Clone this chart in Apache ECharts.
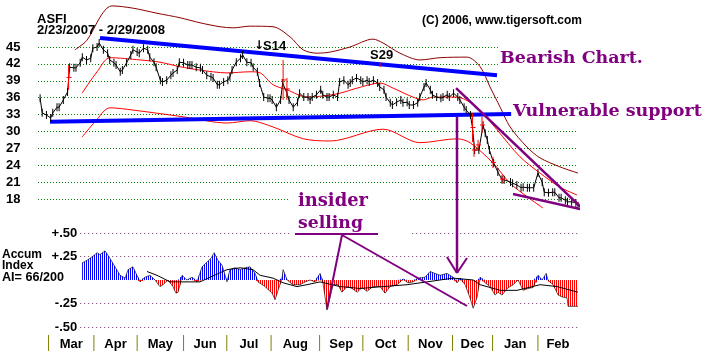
<!DOCTYPE html>
<html><head><meta charset="utf-8">
<script src="https://cdn.jsdelivr.net/npm/echarts@6/dist/echarts.min.js"></script>
<style>html,body{margin:0;padding:0;background:#fff}#c{width:707px;height:352px}</style>
</head><body><div id="c"></div>
<script>
// ---- price (trading-day index from 2/23/2007) ----
const priceDay = [1,2,4,6,7,9,10,12,14,15,17,18,20,21,23,25,26,28,29,31,33,34,36,37,39,40,42,44,45,47,48,50,52,53,55,56,58,59,61,63,64,66,67,69,71,72,73,75,77,78,80,82,83,85,86,88,90,91,92,94,96,97,99,101,102,104,105,107,109,110,111,113,115,116,118,119,121,123,124,126,128,129,130,132,134,135,137,138,140,142,143,145,147,148,149,151,153,154,156,157,159,161,162,164,165,167,168,170,172,173,175,176,178,180,181,183,184,186,187,189,191,192,194,195,197,199,200,202,203,205,206,207,209,211,212,213,214,216,218,220,221,224,225,227,229,230,232,233,235,237,239,240,242,244,245,247,248,250,251,253,255,256];
const priceClose = [35.9,33.3,32.9,32.4,33.3,34.3,34.3,35.6,37.0,41.4,41.3,41.3,42.2,43.2,42.7,43.0,44.8,45.0,45.7,44.5,43.9,42.7,42.2,41.8,40.6,40.9,42.2,43.6,44.5,44.1,43.9,44.8,44.5,43.2,42.3,41.4,39.1,38.8,39.1,40.0,40.4,40.9,42.3,42.2,41.8,41.8,41.8,41.4,41.3,40.9,40.0,39.7,39.5,38.3,38.3,38.8,39.1,39.7,40.9,42.3,43.0,43.6,42.3,42.2,41.4,40.6,38.6,36.1,35.9,35.9,35.6,34.3,35.6,38.6,36.8,35.6,34.3,35.2,36.8,36.1,36.1,35.6,36.1,36.5,37.4,36.5,36.1,36.1,36.5,36.1,38.8,39.1,38.3,38.6,39.1,39.5,39.1,38.8,39.1,38.8,39.1,38.6,37.9,37.4,36.1,35.1,34.7,35.2,35.6,35.1,35.2,34.7,34.7,35.1,36.1,37.9,38.6,37.4,36.5,36.1,35.9,36.1,36.5,36.1,36.8,36.1,35.6,34.3,33.8,32.9,30.6,26.7,26.7,31.1,29.7,28.5,26.7,24.4,22.8,21.4,21.4,21.0,20.8,20.5,20.0,20.1,20.0,20.0,20.0,22.6,21.0,19.2,19.1,19.2,19.2,18.2,18.2,17.8,17.5,17.5,17.3,16.8];
const redDay  = [14.5,116.2,118,206,206.7,208.6,210.5,215.7,220];
const redHigh = [41.8,42.7,39.5,33.3,27.9,28.5,32.6,25.5,22.3];
const redLow  = [37.4,35.6,35.6,28.1,25.5,26.7,29.7,23.5,20.8];
// ---- bands ----
const upperBandDay = [17.5,23.2,29.4,32.7,35.1,45,56.4,67.3,76.8,86.3,92.5,100.5,111.4,119.5,125.7,132.3,138.5,147.9,158.8,163.6,171.6,181.1,190.6,203.4,209.6,214.3,219.1,223.8,231.9,238,247.5,256];
const upperBandVal = [44.5,46.2,50.3,51.9,52.3,51.9,51.0,50.2,49.3,48.6,48.4,48.7,48.6,46.8,44.5,43.9,44.1,45.0,46.4,45.7,43.9,42.7,43.1,43.2,41.5,37.9,34.3,30.8,27.2,25.3,23.7,22.6];
const maDay = [20.9,28,34.1,48.4,57.8,67.3,76.8,89.6,100.5,105.3,111.4,118.1,127.5,135.1,143.2,151.3,162.2,168.3,177.8,182.6,187.3,198.7,204.8,209.6,217.6,228.5,238,247.5,255.6];
const maVal = [36.8,40.6,43.1,42.7,42.3,41.5,40.9,40.4,40.6,40.4,38.3,37.4,36.1,36.3,36.8,37.7,38.6,37.7,36.1,35.6,36.1,36.1,35.2,33.8,30.3,25.5,22.6,20.1,18.7];
const lowerBandDay = [20.9,27,34.1,45,68.8,89.6,100.5,111.4,125.7,138.5,163.6,181.1,198.7,204.8,215.7,223.8,231.9,239.4];
const lowerBandVal = [29.0,31.7,34.2,33.8,32.6,31.5,31.9,30.8,28.7,28.3,30.4,28.0,28.7,28.0,24.4,20.8,18.4,16.4];
// ---- trend lines ----
const blueUpperDay = [29.4,217.6], blueUpperVal = [46.6,40.0];
const blueLowerDay = [5.7,224.3],  blueLowerVal = [31.7,33.1];
const wedgeUpperDay = [198.2,258.4], wedgeUpperVal = [37.7,16.2];
const wedgeLowerDay = [225.2,257.0], wedgeLowerVal = [18.9,16.2];
// ---- accumulation index ----
const aiDay = [20.9,23.2,25.6,28,29.4,31.8,34.1,36.5,38.9,41.3,42.7,45,46.9,48.4,50.7,53.1,55.5,57.8,59.3,61.6,64,65.4,66.4,68.3,70.6,73,75.4,77.8,80.1,82,83.5,85.3,87.2,88.7,89.6,91,93.4,95.8,98.2,100.5,102.9,104.3,107.6,111,112.4,113.8,115.7,116.2,118.1,120.9,124.2,126.6,129,131.3,133.7,135.1,137,138.5,139.9,142.2,144.1,146.5,148.9,151.3,153.6,156,158.8,162.2,164.5,166.9,170.2,173.1,175.4,177.8,180.2,183.5,185.9,188.2,190.6,193.9,196.8,198.7,200.1,202.5,204.8,206.3,208.2,209.6,212,214.3,216.7,218.1,220,222.4,225.2,227.6,230,232.3,234.7,237.1,239,240.9,241.8,244.2,246.6,248.5,250.8,251.3,253.2,256];
const aiVal = [0.18,0.21,0.245,0.29,0.27,0.31,0.23,0.14,0.05,0.02,0.11,0.14,0.05,-0.02,0.03,0.05,0,-0.07,-0.05,0,-0.07,-0.14,-0.13,0.05,0,0.03,-0.02,0.14,0.19,0.23,0.29,0.21,0.16,0.05,-0.02,0.11,0.13,0.11,0.13,0.14,0.07,-0.02,-0.07,-0.14,-0.21,-0.11,0.02,0.11,0,-0.05,-0.05,-0.02,0,-0.02,0.07,-0.03,-0.32,-0.18,-0.05,-0.05,-0.13,-0.07,-0.09,-0.13,-0.08,-0.12,-0.07,-0.07,-0.14,-0.07,-0.05,0.01,-0.03,-0.02,0.02,0.03,0.09,0.07,0.05,0.07,0.03,-0.03,0.02,-0.05,-0.19,-0.3,-0.18,0.03,-0.03,-0.07,-0.16,-0.13,-0.16,-0.09,-0.05,0,-0.11,-0.09,-0.08,0.05,0,0.07,0,-0.05,-0.16,-0.18,-0.19,-0.28,-0.28,-0.28];
const aiMaDay = [51.7,56.4,62.6,76.8,81.6,89.6,95.8,101.9,105.3,111.4,116.2,122.8,127.5,133.7,143.2,152.7,163.6,175,184.4,196.8,206.3,209.6,219.1,227.1,238,246.1,256];
const aiMaVal = [0.09,0.05,-0.02,-0.02,0.03,0.11,0.13,0.11,0.05,0.02,-0.03,-0.07,-0.05,-0.02,-0.07,-0.09,-0.07,-0.05,-0.02,0.02,0,-0.05,-0.11,-0.11,-0.05,-0.07,-0.13];
const aiTickLabels = {'0.5':'+.50','0.25':'+.25','-0.25':'-.25','-0.5':'-.50'};
// ---- months ----
const monthNames = ['Mar','Apr','May','Jun','Jul','Aug','Sep','Oct','Nov','Dec','Jan','Feb'];
const monthTick  = [5,26.5,47,69,89.5,110.5,133.5,154,175.5,196.5,215.5,237];
const lastDay = 256;

const zip = (a, b) => a.map((v, i) => [v, b[i]]);
function stripes(color) {
  const c = document.createElement('canvas'); c.width = 2; c.height = 1;
  const g = c.getContext('2d'); g.fillStyle = color; g.fillRect(0, 0, 1, 1);
  return { image: c, repeat: 'repeat' };
}
const mctx = document.createElement('canvas').getContext('2d');
function fitFont(text, weight, family, width) {
  mctx.font = weight + ' 100px ' + family;
  const s = 100 * width / mctx.measureText(text).width;
  return weight + ' ' + s.toFixed(2) + 'px ' + family;
}
const SERIF = '"DejaVu Serif"';
const PURPLE = '#800080';
const chart = echarts.init(document.getElementById('c'), null, { renderer: 'canvas' });
const lineBase = (data, color, width, extra) => Object.assign({
  type: 'line', data, symbol: 'none', clip: false, animation: false,
  lineStyle: { color, width }, itemStyle: { color }, z: 3
}, extra || {});

const monthData = monthNames.map((n, i) => [monthTick[i], i < monthTick.length - 1 ? monthTick[i + 1] : lastDay, n]);
const txt = (x, y, text, font, fill, va) => ({ type: 'text', z: 10,
  style: { x, y, text, font, fill: fill || '#000', textVerticalAlign: va || 'top' } });

chart.setOption({
  animation: false,
  backgroundColor: '#fff',
  grid: [
    { left: 38, top: 47, width: 540, height: 152 },
    { left: 80.2, top: 233, width: 497.8, height: 94 },
    { left: 38, top: 335, width: 540, height: 16 }
  ],
  xAxis: [
    { gridIndex: 0, type: 'value', min: 0, max: 256, show: false },
    { gridIndex: 1, type: 'value', min: 20, max: 256, show: false },
    { gridIndex: 2, type: 'value', min: 0, max: 256, show: false }
  ],
  yAxis: [
    { gridIndex: 0, type: 'value', min: 18, max: 45, interval: 3,
      axisLine: { show: false }, axisTick: { show: false },
      axisLabel: { color: '#000', fontWeight: 'bold', fontSize: 13, fontFamily: 'Arial', align: 'left', margin: 32 },
      splitLine: { lineStyle: { color: '#008000', type: [1, 2], width: 1 } } },
    { gridIndex: 1, type: 'value', min: -0.5, max: 0.5, interval: 0.25,
      axisLine: { show: false }, axisTick: { show: false },
      axisLabel: { color: '#000', fontWeight: 'bold', fontSize: 13, fontFamily: 'Arial', margin: 3,
        formatter: v => aiTickLabels[String(v)] || '' },
      splitLine: { lineStyle: { color: ['#703070', '#703070', 'rgba(0,0,0,0)', '#703070', '#703070'], type: [1, 3], width: 1 } } },
    { gridIndex: 2, type: 'value', min: 0, max: 1, show: false }
  ],
  graphic: [
    { type: 'rect', z: 1, shape: { x: 498, y: 40, width: 209, height: 84 }, style: { fill: '#fff' } },
    { type: 'rect', z: 1, shape: { x: 290, y: 190, width: 120, height: 50 }, style: { fill: '#fff' } },
    txt(37, 13, 'ASFI', 'bold 13px Arial'),
    txt(37, 24, '2/23/2007 - 2/29/2008', fitFont('2/23/2007 - 2/29/2008', 'bold', 'Arial', 128)),
    txt(422, 15, '(C) 2006, www.tigersoft.com', fitFont('(C) 2006, www.tigersoft.com', 'bold', 'Arial', 160)),
    txt(500, 58, 'Bearish Chart.', fitFont('Bearish Chart.', 'bold', SERIF, 143), PURPLE, 'middle'),
    txt(513, 111, 'Vulnerable support', fitFont('Vulnerable support', 'bold', SERIF, 189), PURPLE, 'middle'),
    txt(298, 201, 'insider', fitFont('insider', 'bold', SERIF, 70), PURPLE, 'middle'),
    txt(298, 224, 'selling', fitFont('selling', 'bold', SERIF, 65), PURPLE, 'middle'),
    { type: 'line', z: 10, shape: { x1: 295, y1: 234, x2: 378, y2: 234 }, style: { stroke: PURPLE, lineWidth: 2 } },
    { type: 'line', z: 10, shape: { x1: 342, y1: 235, x2: 327, y2: 309 }, style: { stroke: PURPLE, lineWidth: 2 } },
    { type: 'line', z: 10, shape: { x1: 342, y1: 235, x2: 467, y2: 306 }, style: { stroke: PURPLE, lineWidth: 2 } },
    { type: 'line', z: 10, shape: { x1: 457, y1: 117, x2: 457, y2: 273 }, style: { stroke: PURPLE, lineWidth: 2.5 } },
    { type: 'line', z: 10, shape: { x1: 447, y1: 257, x2: 457, y2: 273 }, style: { stroke: PURPLE, lineWidth: 2 } },
    { type: 'line', z: 10, shape: { x1: 467, y1: 258, x2: 457, y2: 273 }, style: { stroke: PURPLE, lineWidth: 2 } },
    txt(254, 40, '\u2193', 'bold 12px "DejaVu Sans"'),
    txt(263, 40, 'S14', 'bold 13px Arial'),
    txt(370, 49, 'S29', 'bold 13px Arial'),
    { type: 'line', z: 10, shape: { x1: 380, y1: 62, x2: 380, y2: 67 }, style: { stroke: '#f00', lineWidth: 1 } },
    txt(2, 249, 'Accum', 'bold 12px Arial'),
    txt(2, 260, 'Index', 'bold 12px Arial'),
    txt(2, 271, 'AI= 66/200', fitFont('AI= 66/200', 'bold', 'Arial', 62))
  ],
  series: [
    lineBase(zip(upperBandDay, upperBandVal), '#8b0000', 1, { smooth: 0.3 }),
    lineBase(zip(maDay, maVal), '#ff0000', 1, { smooth: 0.3 }),
    lineBase(zip(lowerBandDay, lowerBandVal), '#ff0000', 1, { smooth: 0.3 }),
    lineBase(zip(blueUpperDay, blueUpperVal), '#0000ff', 4),
    lineBase(zip(blueLowerDay, blueLowerVal), '#0000ff', 4),
    lineBase(zip(priceDay, priceClose), '#000', 1, { symbol: 'rect', symbolSize: [1, 8], showSymbol: true, z: 4 }),
    { type: 'custom', clip: false, z: 5, animation: false,
      data: redDay.map((d, i) => [d, redHigh[i], redLow[i]]),
      renderItem: (params, api) => {
        const a = api.coord([api.value(0), api.value(1)]);
        const b = api.coord([api.value(0), api.value(2)]);
        const m = (a[1] + b[1]) / 2;
        return { type: 'group', children: [
          { type: 'line', shape: { x1: a[0], y1: a[1], x2: b[0], y2: b[1] }, style: { stroke: '#f00', lineWidth: 1 } },
          { type: 'line', shape: { x1: a[0] - 2, y1: m, x2: a[0] + 3, y2: m }, style: { stroke: '#f00', lineWidth: 1 } }
        ] };
      } },
    lineBase(zip(wedgeUpperDay, wedgeUpperVal), PURPLE, 2.5, { z: 6 }),
    lineBase(zip(wedgeLowerDay, wedgeLowerVal), PURPLE, 2.5, { z: 6 }),
    // accumulation index
    { type: 'line', xAxisIndex: 1, yAxisIndex: 1, symbol: 'none', animation: false,
      data: aiDay.map((d, i) => [d, Math.max(aiVal[i], 0)]),
      lineStyle: { width: 0, opacity: 0 }, areaStyle: { color: stripes('#0000ff'), opacity: 1 } },
    { type: 'line', xAxisIndex: 1, yAxisIndex: 1, symbol: 'none', animation: false,
      data: aiDay.map((d, i) => [d, Math.min(aiVal[i], 0)]),
      lineStyle: { width: 0, opacity: 0 }, areaStyle: { color: stripes('#ff0000'), opacity: 1 } },
    { type: 'line', xAxisIndex: 1, yAxisIndex: 1, symbol: 'none', animation: false,
      data: zip(aiDay, aiVal), lineStyle: { color: '#000', width: 0.8, opacity: 0.8 }, z: 3 },
    { type: 'line', xAxisIndex: 1, yAxisIndex: 1, symbol: 'none', animation: false,
      data: zip(aiMaDay, aiMaVal), lineStyle: { color: '#000', width: 1 }, z: 4 },
    // month axis
    { type: 'custom', xAxisIndex: 2, yAxisIndex: 2, clip: false, animation: false,
      data: monthData,
      renderItem: (params, api) => {
        const t = api.coord([api.value(0), 1]);
        const e = api.coord([api.value(1), 0]);
        const name = monthNames[params.dataIndex];
        return { type: 'group', children: [
          { type: 'line', shape: { x1: t[0], y1: t[1], x2: t[0], y2: e[1] }, style: { stroke: '#808000', lineWidth: 1 } },
          { type: 'text', style: { x: (t[0] + e[0]) / 2, y: (t[1] + e[1]) / 2 + 1, text: name, font: 'bold 13px Arial', fill: '#000', textAlign: 'center', textVerticalAlign: 'middle' } }
        ] };
      } }
  ]
});
</script></body></html>
